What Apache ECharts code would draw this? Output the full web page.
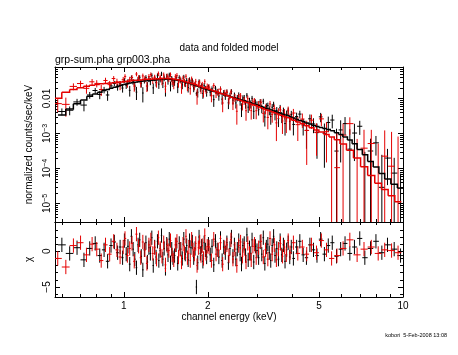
<!DOCTYPE html>
<html><head><meta charset="utf-8">
<script src="https://cdn.jsdelivr.net/npm/echarts@6/dist/echarts.min.js"></script>
<style>html,body{margin:0;padding:0;background:#fff}#c{width:458px;height:355px}</style>
</head><body><div id="c"></div>
<script>
// ---------- data ----------
const blackEnergy = [0.60,0.64,0.68,0.72,0.755,0.79,0.82,0.85,0.875,0.90,0.925,0.95,0.97,0.99,
1.005,1.02,1.035,1.05,1.065,1.08,1.095,1.11,1.125,1.14,1.155,1.17,1.185,1.20,1.215,1.23,1.245,1.26,1.275,1.29,1.305,1.32,1.335,1.35,1.365,1.38,1.395,1.41,1.425,1.44,1.455,1.47,1.485,1.50,
1.52,1.54,1.56,1.58,1.60,1.62,1.64,1.66,1.68,1.70,1.72,1.74,1.76,1.78,1.80,1.82,1.84,1.86,1.88,1.90,1.92,1.94,1.96,1.98,
2.01,2.04,2.07,2.10,2.13,2.16,2.19,2.22,2.25,2.28,2.31,2.34,2.37,2.40,2.43,2.46,2.49,2.52,2.55,2.58,2.61,2.64,2.67,2.70,2.73,2.76,2.79,2.82,2.85,2.88,
2.92,2.96,3.00,3.04,3.08,3.12,3.16,3.20,3.24,3.28,3.32,3.36,3.40,3.44,3.48,
3.53,3.58,3.63,3.68,3.73,3.78,3.83,3.88,3.93,3.98,
4.05,4.16,4.27,4.39,4.51,4.64,4.78,4.92,5.07,5.23,5.40,5.58,5.78,5.98,
6.2,6.45,6.7,7.0,7.3,7.65,8.0,8.4,8.8,9.3,9.8];
const blackModel = [0.00339,0.0050,0.0071,0.0091,0.0115,0.0135,0.0151,0.0170,0.0182,0.0195,0.0209,0.0224,0.0234,0.0245,
0.0254,0.0260,0.0266,0.0275,0.0280,0.0285,0.0290,0.0295,0.0300,0.0305,0.0311,0.0316,0.0319,0.0322,0.0325,0.0327,0.0330,0.0333,0.0336,0.0339,0.0342,0.0345,0.0348,0.0351,0.0354,0.0355,0.0355,0.0355,0.0355,0.0355,0.0354,0.0351,0.0348,0.0345,
0.0339,0.0334,0.0329,0.0324,0.0314,0.0307,0.0302,0.0293,0.0284,0.0275,0.0267,0.0259,0.0251,0.0244,0.0236,0.0229,0.0222,0.0216,0.0209,0.0203,0.0197,0.0191,0.0185,0.0181,
0.0176,0.0170,0.0164,0.0159,0.0153,0.0148,0.0143,0.0138,0.0134,0.0129,0.0124,0.0120,0.0116,0.0112,0.0109,0.0106,0.0103,0.0100,0.0098,0.0095,0.0092,0.0090,0.0087,0.0085,0.0083,0.0080,0.0078,0.0077,0.0075,0.0072,
0.0069,0.0067,0.0065,0.0062,0.0060,0.0058,0.0056,0.0053,0.0051,0.0050,0.0049,0.0047,0.0046,0.0044,0.0043,
0.0041,0.0039,0.0038,0.0036,0.0035,0.0034,0.0033,0.0032,0.0030,0.0029,
0.00275,0.0025,0.00234,0.00219,0.0020,0.00186,0.0017,0.00158,0.00148,0.00138,0.00129,0.0012,0.00105,0.00093,
0.00079,0.00065,0.00051,0.00035,0.000245,0.000158,0.00011,0.0000724,0.00005,0.0000355,0.0000275];
const blackChi = [0.9,-0.3,0.5,-1.2,0.4,1.1,-0.6,0.2,-1.4,0.8,1.3,-0.2,0.6,-0.9,
1.5,-0.4,0.7,-1.8,2.1,0.3,-1.1,-2.3,0.9,1.6,-0.7,-2.6,0.2,1.2,-1.5,0.5,-0.3,1.9,-2.0,0.6,-0.8,1.4,-1.3,0.1,2.2,-1.1,0.4,-2.4,1.0,-0.5,1.7,-1.6,0.3,-0.9,
-0.6,0.9,-1.7,1.1,0.3,-1.0,1.7,-0.4,0.8,-1.2,1.5,0.5,1.3,-0.9,0.4,-5.0,-1.6,2.0,-0.3,0.7,-1.4,1.2,0.2,-0.8,
1.0,-0.5,0.7,-1.9,1.4,0.2,-0.8,1.8,-1.3,0.6,-0.2,1.2,-1.6,0.4,2.0,-0.7,0.9,-1.1,0.3,1.5,-0.4,-1.8,0.8,1.1,-0.6,2.3,-1.2,0.5,-0.3,1.6,
-1.5,0.7,0.1,-0.9,1.3,-0.4,1.9,-1.7,0.6,1.0,-0.2,-1.3,0.8,2.1,-0.6,
0.4,-1.1,1.5,-0.5,0.9,-1.4,0.2,1.2,-0.8,0.6,
-1.0,0.6,1.4,-0.5,-0.9,0.9,0.2,-0.6,1.7,-0.4,0.8,1.2,-0.7,0.3,
1.1,-0.3,0.6,1.8,-0.9,0.4,1.4,-0.2,0.9,0.3,-0.6];
const blackRelErr = [0.28,0.26,0.25,0.24,0.24,0.23,0.23,0.22,0.22,0.22,0.22,0.21,0.21,0.21,
0.21,0.20,0.20,0.21,0.20,0.20,0.20,0.21,0.20,0.20,0.20,0.21,0.20,0.20,0.20,0.20,0.21,0.20,0.20,0.20,0.20,0.21,0.20,0.20,0.20,0.21,0.20,0.20,0.21,0.20,0.20,0.21,0.20,0.20,
0.20,0.20,0.21,0.20,0.20,0.20,0.21,0.20,0.20,0.21,0.20,0.20,0.21,0.20,0.20,0.08,0.20,0.21,0.20,0.20,0.21,0.20,0.20,0.21,
0.21,0.21,0.21,0.22,0.21,0.22,0.22,0.21,0.22,0.22,0.22,0.23,0.22,0.22,0.23,0.22,0.23,0.23,0.22,0.23,0.23,0.24,0.23,0.23,0.24,0.24,0.23,0.24,0.24,0.25,
0.25,0.24,0.25,0.25,0.26,0.25,0.26,0.26,0.27,0.26,0.27,0.27,0.28,0.27,0.28,
0.28,0.29,0.29,0.30,0.30,0.31,0.31,0.32,0.32,0.33,
0.34,0.36,0.38,0.40,0.43,0.46,0.50,0.55,0.60,0.66,0.75,0.85,1.0,1.2,
1.3,1.5,1.7,2.0,2.2,2.5,2.8,3.0,3.3,3.6,4.0];

const redEnergy = [0.58,0.62,0.66,0.70,0.735,0.77,0.80,0.83,0.86,0.89,0.92,0.945,0.97,0.995,
1.01,1.03,1.05,1.07,1.09,1.11,1.13,1.15,1.17,1.19,1.21,1.23,1.25,1.27,1.29,1.31,1.33,1.35,1.37,1.39,1.41,1.43,1.45,1.47,1.49,1.51,1.53,1.55,1.57,1.59,1.61,1.63,1.65,1.67,1.69,1.71,1.73,1.75,1.77,1.79,1.81,1.83,1.85,1.87,1.89,1.91,1.93,1.95,1.97,1.99,
2.02,2.06,2.10,2.14,2.18,2.22,2.26,2.30,2.34,2.38,2.42,2.46,2.50,2.54,2.58,2.62,2.66,2.70,2.74,2.78,2.82,2.86,2.90,2.94,2.98,
3.04,3.10,3.16,3.22,3.28,3.34,3.40,3.46,3.52,3.58,3.64,3.70,3.76,3.82,3.88,3.94,
4.05,4.2,4.36,4.52,4.7,4.9,5.1,5.32,5.55,5.8,
6.1,6.45,6.85,7.25,7.7,8.15,8.6,9.1,9.6];
const redModel = [0.0102,0.0151,0.0182,0.0204,0.0224,0.0240,0.0251,0.0263,0.0269,0.0275,0.0282,0.0288,0.0295,0.0302,
0.0306,0.0312,0.0318,0.0324,0.0330,0.0333,0.0337,0.0340,0.0347,0.0350,0.0353,0.0356,0.0360,0.0363,0.0363,0.0365,0.0367,0.0368,0.0372,0.0372,0.0372,0.0370,0.0367,0.0364,0.0361,0.0355,0.0350,0.0344,0.0339,0.0329,0.0320,0.0311,0.0303,0.0295,0.0288,0.0280,0.0273,0.0266,0.0259,0.0252,0.0245,0.0237,0.0229,0.0224,0.0219,0.0211,0.0204,0.0200,0.0195,0.0190,
0.0184,0.0174,0.0164,0.0155,0.0147,0.0140,0.0135,0.0128,0.0122,0.0115,0.0108,0.0103,0.0099,0.0094,0.0091,0.0087,0.0084,0.0080,0.0077,0.0075,0.0072,0.0069,0.0066,0.0064,0.0062,
0.0058,0.0054,0.0051,0.0048,0.0046,0.0043,0.0041,0.0039,0.0037,0.0035,0.0033,0.0032,0.0030,0.0029,0.0028,0.0027,
0.0024,0.00214,0.0019,0.00166,0.00145,0.00126,0.0011,0.00093,0.00079,0.00066,
0.0005,0.00033,0.0002,0.000112,0.000063,0.000038,0.000025,0.0000166,0.0000112];
const redChi = [-1.0,-2.2,0.8,1.2,-0.5,1.0,0.3,-1.3,0.9,-0.4,1.4,0.2,-0.8,0.6,
1.8,-0.6,0.4,1.1,-1.4,2.4,0.7,-0.9,1.3,0.2,-1.7,0.9,1.6,-0.3,0.5,-1.1,1.9,0.4,-0.7,1.2,-1.9,0.8,0.1,1.5,-0.5,-1.2,0.9,1.4,-0.8,0.3,-1.5,1.0,-0.2,2.1,-0.9,0.6,-1.3,1.7,0.2,-0.4,1.1,-2.0,0.5,1.3,-0.6,0.8,-1.0,2.2,-0.3,0.7,
0.6,-1.3,1.7,-0.4,0.2,1.2,-1.8,0.5,0.9,-0.6,1.6,-1.1,0.3,-2.0,0.8,1.3,-0.7,0.4,-1.5,1.1,-0.3,-1.2,0.7,1.0,-0.9,
0.5,1.4,-0.8,0.2,-1.1,1.8,-0.4,0.9,-1.2,0.3,1.1,-0.7,0.6,-0.5,1.5,-0.2,
1.2,-0.3,0.6,-0.4,0.9,-0.2,1.5,0.2,-1.0,-0.6,
0.4,1.6,-0.5,0.3,0.6,-0.3,0.2,0.1,-0.2];
const redRelErr = [0.30,0.25,0.27,0.26,0.26,0.25,0.25,0.24,0.24,0.24,0.23,0.23,0.23,0.23,
0.22,0.22,0.22,0.21,0.22,0.21,0.22,0.21,0.21,0.22,0.21,0.21,0.21,0.22,0.21,0.21,0.21,0.22,0.21,0.22,0.21,0.22,0.22,0.21,0.22,0.22,0.22,0.23,0.22,0.23,0.23,0.22,0.23,0.22,0.23,0.23,0.23,0.22,0.23,0.23,0.23,0.24,0.23,0.23,0.24,0.23,0.24,0.24,0.23,0.24,
0.24,0.24,0.25,0.24,0.25,0.25,0.25,0.26,0.25,0.26,0.26,0.26,0.27,0.27,0.27,0.28,0.27,0.28,0.28,0.29,0.29,0.29,0.30,0.30,0.31,
0.31,0.32,0.33,0.33,0.34,0.35,0.36,0.37,0.38,0.39,0.40,0.41,0.42,0.43,0.44,0.46,
0.50,0.55,0.60,0.66,0.73,0.68,0.92,1.05,1.2,1.4,
2.0,3.0,5.0,8.0,12,18,40,60,90];

const xMajorTicks = [1, 2, 5, 10];
const xTickLabels = ['1', '2', '5', '10'];
const xMinorTicks = [0.6, 0.7, 0.8, 0.9, 3, 4, 6, 7, 8, 9];
const yMajorTicks = [1e-5, 1e-4, 1e-3, 0.01];
const yTickLabels = ['10^−5', '10^−4', '10^−3', '0.01'];
const yMinorTicks = [4e-6,5e-6,6e-6,7e-6,8e-6,9e-6,2e-5,3e-5,4e-5,5e-5,6e-5,7e-5,8e-5,9e-5,
  2e-4,3e-4,4e-4,5e-4,6e-4,7e-4,8e-4,9e-4,2e-3,3e-3,4e-3,5e-3,6e-3,7e-3,8e-3,9e-3,0.02,0.03,0.04,0.05,0.06,0.07];
const chiMajorTicks = [-5, 0];
const chiTickLabels = ['−5', '0'];
const chiMinorTicks = [-6, -4, -3, -2, -1, 1, 2, 3, 4];

// ---------- layout / style ----------
const X_MIN = 0.567, X_MAX = 10;
const Y_MIN = 2.96e-6, Y_MAX = 0.0794;
const CHI_MIN = -6.4, CHI_MAX = 4.1;
const FONT = 'Liberation Sans, Arial, sans-serif';
const BLACK = '#000000', RED = '#e50000';

[[blackEnergy, blackModel, blackChi, blackRelErr], [redEnergy, redModel, redChi, redRelErr]].forEach((g, k) => {
  const n = g[0].length;
  g.forEach((a, j) => { if (a.length !== n) throw new Error('array length mismatch: set ' + k + ' array ' + j + ' has ' + a.length + ' vs ' + n); });
});

function binEdges(E) {
  const n = E.length, lo = [], hi = [];
  for (let i = 0; i < n; i++) {
    lo.push(i > 0 ? Math.sqrt(E[i - 1] * E[i]) : E[0] / Math.sqrt(E[1] / E[0]));
    hi.push(i < n - 1 ? Math.sqrt(E[i] * E[i + 1]) : E[n - 1] * Math.sqrt(E[n - 1] / E[n - 2]));
  }
  return { lo, hi };
}
function buildSpectrum(E, M, C, R) {
  const ed = binEdges(E), pts = [], model = [], resid = [];
  for (let i = 0; i < E.length; i++) {
    const err = R[i] * M[i];
    const d = M[i] + C[i] * err;           // data = model + chi * sigma
    pts.push([E[i], ed.lo[i], ed.hi[i], d > 0 ? d : M[i], d - err, d + err, d > 0 ? 1 : 0]);
    model.push([E[i], ed.lo[i], ed.hi[i], M[i], i < E.length - 1 ? M[i + 1] : 0]);
    resid.push([E[i], ed.lo[i], ed.hi[i], C[i]]);
  }
  return { pts, model, resid };
}
const blk = buildSpectrum(blackEnergy, blackModel, blackChi, blackRelErr);
const red = buildSpectrum(redEnergy, redModel, redChi, redRelErr);

function seg(p, q, color, w) {
  return { type: 'line', shape: { x1: p[0], y1: p[1], x2: q[0], y2: q[1] }, style: { stroke: color, lineWidth: w } };
}
function dataRenderer(color) {
  return function (params, api) {
    const e = api.value(0), lo = api.value(1), hi = api.value(2), y = api.value(3),
      ylo = api.value(4), yhi = api.value(5), show = api.value(6);
    const ch = [];
    if (show) ch.push(seg(api.coord([lo, y]), api.coord([hi, y]), color, 1));
    if (yhi > 0) ch.push(seg(api.coord([e, Math.max(ylo, Y_MIN * 1e-3)]), api.coord([e, yhi]), color, 1));
    return { type: 'group', children: ch };
  };
}
function modelRenderer(color) {
  return function (params, api) {
    const lo = api.value(1), hi = api.value(2), m = api.value(3), mn = api.value(4);
    const pts = [api.coord([lo, m]), api.coord([hi, m])];
    if (mn > 0) pts.push(api.coord([hi, mn]));
    return { type: 'polyline', shape: { points: pts }, style: { stroke: color, lineWidth: 1.5, fill: null } };
  };
}
function residRenderer(color) {
  return function (params, api) {
    const e = api.value(0), lo = api.value(1), hi = api.value(2), c = api.value(3);
    return { type: 'group', children: [
      seg(api.coord([lo, c]), api.coord([hi, c]), color, 1),
      seg(api.coord([e, c - 1]), api.coord([e, c + 1]), color, 1)
    ] };
  };
}
function custom(name, data, render, xi, yi, z) {
  return { type: 'custom', name, data, renderItem: render, xAxisIndex: xi, yAxisIndex: yi,
    coordinateSystem: 'cartesian2d', encode: { x: 0, y: 3 }, clip: true, silent: true, z };
}

function nearestLabel(v, ticks, labels, isLog) {
  let best = 0, bd = Infinity;
  ticks.forEach((t, i) => { const d = isLog ? Math.abs(Math.log10(t) - Math.log10(v)) : Math.abs(t - v); if (d < bd) { bd = d; best = i; } });
  return labels[best];
}
const axisLine = { show: true, onZero: false, lineStyle: { color: '#000', width: 1 } };
const noLine = { show: false, onZero: false };
function xAxisSet(grid, withLabels) {
  const common = { gridIndex: grid, type: 'log', logBase: 10, min: X_MIN, max: X_MAX, splitLine: { show: false } };
  const major = Object.assign({}, common, {
    position: 'bottom', axisLine,
    axisTick: { show: true, inside: true, length: 5, lineStyle: { color: '#000' }, customValues: xMajorTicks },
    axisLabel: withLabels ? { show: true, customValues: xMajorTicks, margin: 4, color: '#000', fontSize: 10, fontFamily: FONT,
      formatter: v => nearestLabel(v, xMajorTicks, xTickLabels, true) } : { show: false }
  });
  if (withLabels) Object.assign(major, { name: 'channel energy (keV)', nameLocation: 'middle', nameGap: 13,
    nameTextStyle: { color: '#000', fontSize: 10, fontFamily: FONT } });
  const minor = Object.assign({}, common, { position: 'bottom', axisLine: noLine,
    axisTick: { show: true, inside: true, length: 3, lineStyle: { color: '#000' }, customValues: xMinorTicks }, axisLabel: { show: false } });
  const majorTop = Object.assign({}, common, { position: 'top', axisLine,
    axisTick: { show: true, inside: true, length: 5, lineStyle: { color: '#000' }, customValues: xMajorTicks }, axisLabel: { show: false } });
  const minorTop = Object.assign({}, minor, { position: 'top' });
  return [major, minor, majorTop, minorTop];
}
function yAxisSet(grid, cfg) {
  const common = Object.assign({ gridIndex: grid, splitLine: { show: false } }, cfg.scale);
  const major = Object.assign({}, common, {
    position: 'left', axisLine,
    axisTick: { show: true, inside: true, length: 5, lineStyle: { color: '#000' }, customValues: cfg.major },
    axisLabel: { show: true, customValues: cfg.major, rotate: 90, margin: 3, color: '#000', fontSize: 10, fontFamily: FONT,
      formatter: cfg.formatter, rich: { s: { fontSize: 7, verticalAlign: 'top', lineHeight: 7, fontFamily: FONT, color: '#000' } } },
    name: cfg.name, nameLocation: 'middle', nameRotate: 90, nameGap: cfg.nameGap,
    nameTextStyle: { color: '#000', fontSize: 10, fontFamily: FONT }
  });
  const minor = Object.assign({}, common, { position: 'left', axisLine: noLine,
    axisTick: { show: true, inside: true, length: 3, lineStyle: { color: '#000' }, customValues: cfg.minor }, axisLabel: { show: false } });
  const majorR = Object.assign({}, common, { position: 'right', axisLine,
    axisTick: { show: true, inside: true, length: 5, lineStyle: { color: '#000' }, customValues: cfg.major }, axisLabel: { show: false } });
  const minorR = Object.assign({}, minor, { position: 'right' });
  return [major, minor, majorR, minorR];
}

const chart = echarts.init(document.getElementById('c'), null, { renderer: 'canvas' });
chart.setOption({
  animation: false,
  backgroundColor: '#ffffff',
  title: [
    { text: 'data and folded model', left: 'center', top: 43, padding: 0,
      textStyle: { fontSize: 10, fontWeight: 'normal', color: '#000', fontFamily: FONT } },
    { text: 'grp-sum.pha grp003.pha', left: 55, top: 55, padding: 0,
      textStyle: { fontSize: 10.5, fontWeight: 'normal', color: '#000', fontFamily: FONT } },
    { text: 'kobori  5-Feb-2008 13:08', right: 11, top: 332, padding: 0,
      textStyle: { fontSize: 5.5, fontWeight: 'normal', color: '#000', fontFamily: FONT } }
  ],
  grid: [
    { left: 55, top: 67, width: 348, height: 155 },
    { left: 55, top: 222, width: 348, height: 75 }
  ],
  xAxis: [].concat(xAxisSet(0, false), xAxisSet(1, true)),
  yAxis: [].concat(
    yAxisSet(0, { scale: { type: 'log', logBase: 10, min: Y_MIN, max: Y_MAX }, major: yMajorTicks, minor: yMinorTicks,
      name: 'normalized counts/sec/keV', nameGap: 19,
      formatter: v => { const s = nearestLabel(v, yMajorTicks, yTickLabels, true); const p = s.split('^'); return p.length > 1 ? p[0] + '{s|' + p[1] + '}' : s; } }),
    yAxisSet(1, { scale: { type: 'value', min: CHI_MIN, max: CHI_MAX }, major: chiMajorTicks, minor: chiMinorTicks,
      name: 'χ', nameGap: 18,
      formatter: v => nearestLabel(v, chiMajorTicks, chiTickLabels, false) })
  ),
  series: [
    custom('grp-sum.pha data', blk.pts, dataRenderer(BLACK), 0, 0, 2),
    custom('grp003.pha data', red.pts, dataRenderer(RED), 0, 0, 3),
    custom('grp-sum.pha model', blk.model, modelRenderer(BLACK), 0, 0, 4),
    custom('grp003.pha model', red.model, modelRenderer(RED), 0, 0, 5),
    custom('grp-sum.pha chi', blk.resid, residRenderer(BLACK), 4, 4, 2),
    custom('grp003.pha chi', red.resid, residRenderer(RED), 4, 4, 3)
  ]
});
</script></body></html>
